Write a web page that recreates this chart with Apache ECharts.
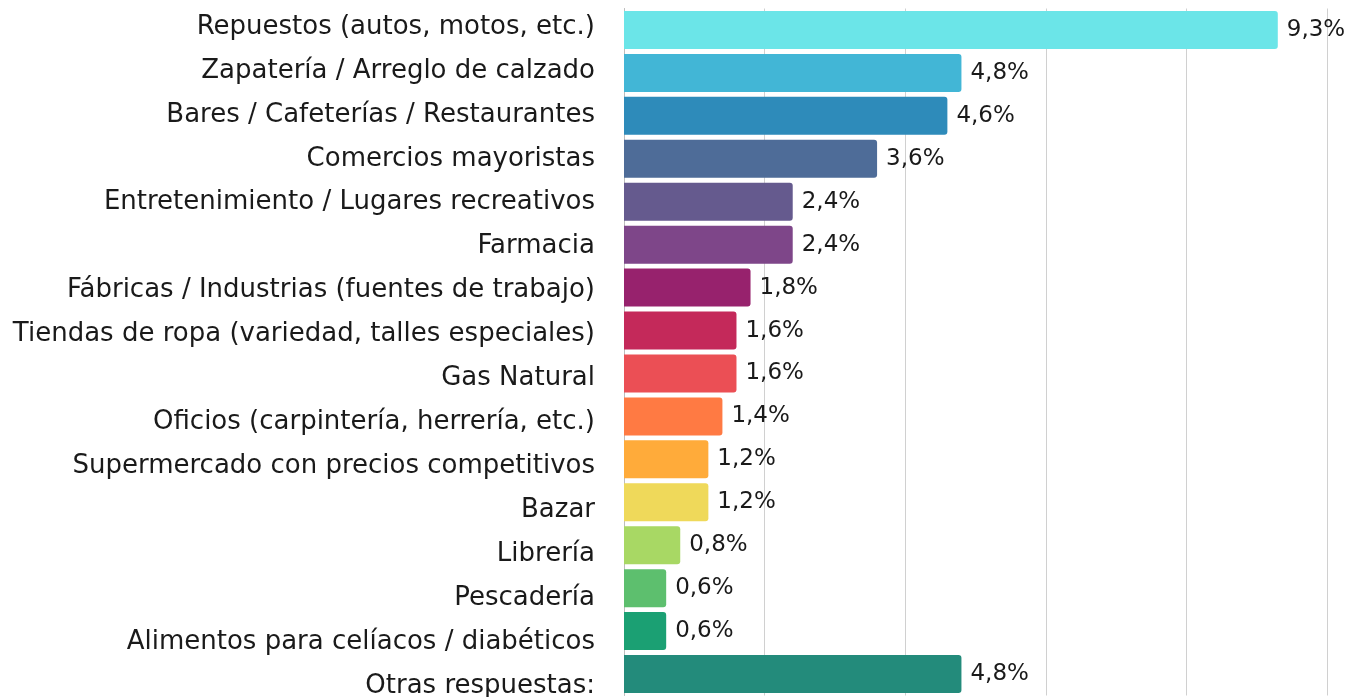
<!DOCTYPE html>
<html>
<head>
<meta charset="utf-8">
<script src="https://cdn.jsdelivr.net/npm/echarts@6/dist/echarts.min.js"></script>
<style>
html,body{margin:0;padding:0;background:#fff;}
#chart{width:1355px;height:697px;}
</style>
</head>
<body>
<div id="chart"></div>
<script>
const categories = [
  "Repuestos (autos, motos, etc.)",
  "Zapatería / Arreglo de calzado",
  "Bares / Cafeterías / Restaurantes",
  "Comercios mayoristas",
  "Entretenimiento / Lugares recreativos",
  "Farmacia",
  "Fábricas / Industrias (fuentes de trabajo)",
  "Tiendas de ropa (variedad, talles especiales)",
  "Gas Natural",
  "Oficios (carpintería, herrería, etc.)",
  "Supermercado con precios competitivos",
  "Bazar",
  "Librería",
  "Pescadería",
  "Alimentos para celíacos / diabéticos",
  "Otras respuestas:"
];
const values = [9.3, 4.8, 4.6, 3.6, 2.4, 2.4, 1.8, 1.6, 1.6, 1.4, 1.2, 1.2, 0.8, 0.6, 0.6, 4.8];
const colors = [
  "#6be5e8", "#42b6d6", "#2e8bba", "#4e6c98", "#655a8e", "#7e4689",
  "#97226d", "#c4295a", "#eb4f55", "#ff7a43", "#ffab3a", "#efd95a",
  "#a8d864", "#5dbf6e", "#1ba073", "#238b7b"
];
const xTicks = [0, 2, 4, 6, 8, 10];

const FONT = "DejaVu Sans";
const chart = echarts.init(document.getElementById('chart'), null, {renderer: 'canvas'});
chart.setOption({
  animation: false,
  backgroundColor: '#ffffff',
  grid: [
    {left: 624, right: 28, top: 8.5, height: 687, containLabel: false, outerBoundsMode: 'none'},
    {left: 624, right: 28, top: 5, height: 703, containLabel: false, outerBoundsMode: 'none'}
  ],
  xAxis: [
    {
      gridIndex: 0, type: 'value', min: xTicks[0], max: xTicks[xTicks.length - 1], interval: 2,
      axisLabel: {show: false}, axisLine: {show: false}, axisTick: {show: false},
      splitLine: {show: true, lineStyle: {color: '#d0d0d0', width: 1}}
    },
    {
      gridIndex: 1, type: 'value', min: 0, max: 10, show: false
    }
  ],
  yAxis: [
    {
      gridIndex: 0, type: 'category', data: categories, inverse: true,
      axisLabel: {show: false},
      axisTick: {show: false},
      axisLine: {show: true, lineStyle: {color: '#bdbdbd', width: 1}}
    },
    {
      gridIndex: 1, type: 'category', data: categories, inverse: true,
      axisLine: {show: false}, axisTick: {show: false}, splitLine: {show: false},
      axisLabel: {
        show: true, margin: 29, color: '#1a1a1a', fontSize: 26, fontFamily: FONT, interval: 0
      }
    }
  ],
  series: [{
    type: 'bar',
    xAxisIndex: 0, yAxisIndex: 0,
    barWidth: 38,
    data: values.map((v, i) => ({value: v, itemStyle: {color: colors[i]}})),
    itemStyle: {borderRadius: [0, 3, 3, 0]},
    label: {
      show: true, position: 'right', distance: 9,
      color: '#1a1a1a', fontSize: 23, fontFamily: FONT,
      formatter: p => p.value.toFixed(1).replace('.', ',') + '%'
    }
  }]
});
</script>
</body>
</html>
